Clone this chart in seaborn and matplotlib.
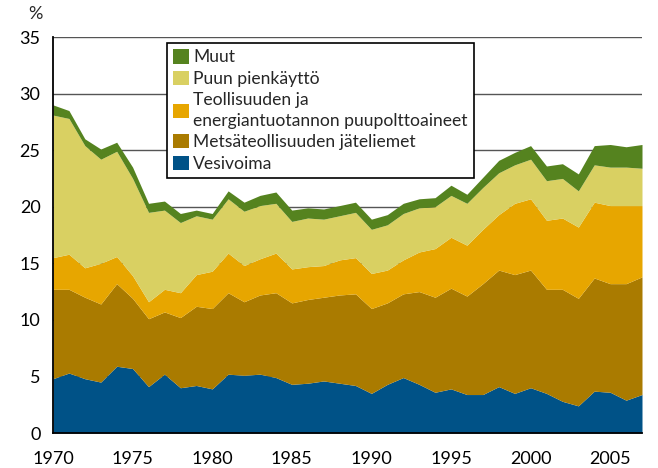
import numpy as np
import seaborn as sns
import matplotlib.pyplot as plt
from matplotlib.patches import Patch

years = list(range(1970, 2008))

vesivoima = [4.8, 5.3, 4.8, 4.5, 5.9, 5.7, 4.1, 5.2, 4.0, 4.2,
             3.9, 5.2, 5.1, 5.2, 4.9, 4.3, 4.4, 4.6, 4.4, 4.2,
             3.5, 4.3, 4.9, 4.3, 3.6, 3.9, 3.4, 3.4, 4.1, 3.5,
             4.0, 3.5, 2.8, 2.4, 3.7, 3.6, 2.9, 3.4]
jateliemet = [7.9, 7.4, 7.2, 6.9, 7.3, 6.2, 6.0, 5.5, 6.2, 7.0,
              7.1, 7.2, 6.5, 7.0, 7.5, 7.2, 7.4, 7.4, 7.8, 8.1,
              7.5, 7.2, 7.4, 8.2, 8.4, 8.9, 8.7, 9.8, 10.3, 10.5,
              10.4, 9.2, 9.9, 9.5, 10.0, 9.6, 10.3, 10.4]
teollisuus = [2.8, 3.1, 2.6, 3.6, 2.4, 2.0, 1.5, 2.0, 2.2, 2.8,
              3.3, 3.5, 3.2, 3.2, 3.5, 3.0, 2.9, 2.8, 3.1, 3.2,
              3.1, 2.9, 3.0, 3.5, 4.3, 4.5, 4.5, 4.8, 4.9, 6.3,
              6.3, 6.1, 6.3, 6.3, 6.7, 6.9, 6.9, 6.3]
pienkaytto = [12.6, 12.0, 10.8, 9.2, 9.3, 8.6, 7.9, 7.0, 6.2, 5.2,
              4.6, 4.8, 4.8, 4.7, 4.4, 4.2, 4.3, 4.1, 3.9, 4.0,
              3.9, 4.0, 4.1, 3.9, 3.7, 3.7, 3.7, 3.7, 3.7, 3.4,
              3.5, 3.5, 3.5, 3.2, 3.3, 3.4, 3.4, 3.3]
muut = [0.9, 0.7, 0.6, 0.9, 0.8, 1.0, 0.8, 0.8, 0.8, 0.5,
        0.5, 0.7, 0.8, 0.9, 1.0, 1.0, 0.9, 0.9, 0.9, 0.9,
        0.9, 0.9, 0.9, 0.8, 0.8, 0.9, 0.8, 0.9, 1.1, 1.1,
        1.2, 1.3, 1.3, 1.5, 1.7, 2.0, 1.8, 2.1]

labels = ['Vesivoima', 'Metsäteollisuuden jäteliemet',
          'Teollisuuden ja\nenergiantuotannon puupolttoaineet',
          'Puun pienkäyttö', 'Muut']
colors = ['#005287', '#aa7b00', '#e7a600', '#d9d062', '#55831f']

sns.set_style('white')
plt.rcParams['font.family'] = ['Lato', 'DejaVu Sans']

fig = plt.figure(figsize=(6.58, 4.68), dpi=100)
ax = fig.add_axes([53 / 658, 35 / 468, 589 / 658, 396 / 468])

for y in range(5, 40, 5):
    ax.axhline(y, color='#555555', lw=1.0, zorder=0)

ax.stackplot(years, vesivoima, jateliemet, teollisuus, pienkaytto, muut,
             colors=colors, linewidth=0, zorder=2)

ax.set_xlim(1970, 2007)
ax.set_ylim(0, 35)
ax.set_xticks(range(1970, 2007, 5))
ax.set_yticks(range(0, 36, 5))
ax.tick_params(axis='both', direction='out', length=5, width=1.3,
               labelsize=13, color='black', labelcolor='black', pad=4)
ax.tick_params(axis='x', pad=8)
sns.despine(ax=ax)
for s in ['left', 'bottom']:
    ax.spines[s].set_color('black')
    ax.spines[s].set_linewidth(1.3)
    ax.spines[s].set_zorder(5)

fig.text(35 / 658, 1 - 14 / 468, '%', fontsize=13, ha='center', va='center')

handles = [Patch(facecolor=c, edgecolor='none') for c in colors][::-1]
leg = ax.legend(handles, labels[::-1], loc='upper left',
                bbox_to_anchor=(0.193, 0.985), fontsize=12.6,
                frameon=True, fancybox=False, framealpha=1,
                edgecolor='black', handlelength=0.9, handleheight=0.9,
                handletextpad=0.25, labelspacing=0.3, borderpad=0.35,
                borderaxespad=0)
for t in leg.get_texts():
    t.set_linespacing(1.35)
leg.get_frame().set_linewidth(1.2)
leg.set_zorder(10)

fig.savefig('out.png', dpi=100)
